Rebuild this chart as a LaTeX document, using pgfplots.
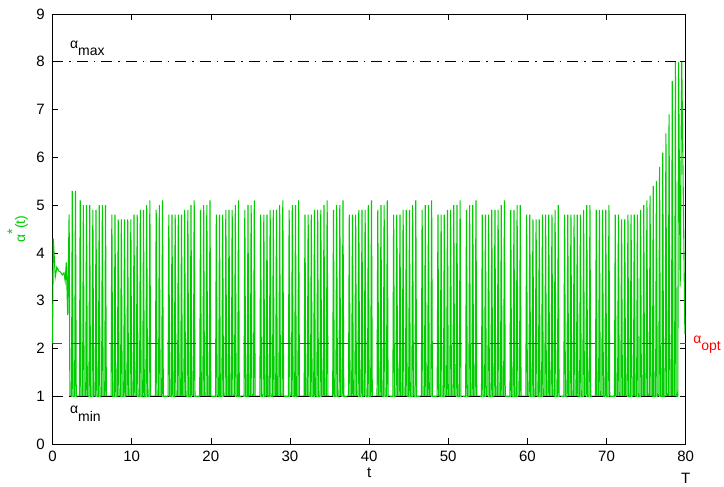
\documentclass[border=0pt]{standalone}
\usepackage{fontspec}
\setmainfont{Liberation Sans}
\usepackage{pgfplots}
\pgfplotsset{compat=1.18}
\definecolor{mgreen}{rgb}{0,0.8,0}
\definecolor{mred}{rgb}{1,0,0}
\begin{document}
\fontsize{14bp}{17bp}\selectfont
\begin{tikzpicture}
\begin{axis}[
  at={(0,0)}, anchor=south west,
  scale only axis, width=633.2bp, height=430bp,
  xmin=0, xmax=80, ymin=0, ymax=9,
  xtick={0,10,...,80}, ytick={0,1,...,9},
  tick align=inside, tick pos=both,
  major tick length=6bp,
  axis line style={line width=0.8bp},
  every tick/.style={line width=0.6bp, black},
  clip=false,
  /pgf/number format/assume math mode=true,
  ticklabel style={font=\fontsize{15bp}{18bp}\selectfont},
  xticklabel style={yshift=-2.5bp},
  yticklabel style={xshift=-3bp},
  every axis y label/.style={at={(axis description cs:-0.0434,0.5)}, anchor=base, rotate=90, text=mgreen, inner sep=0pt},
  every axis x label/.style={at={(axis description cs:0.5,-0.079)}, anchor=base, inner sep=0pt, font=\fontsize{15bp}{18bp}\selectfont},
  ylabel={α\raisebox{8bp}{*}(t)},
  xlabel={t},
]
\addplot[mgreen, line width=1.1bp] coordinates {
(0,2.1)(0.1,4.3)(0.35,3.5)(0.55,3.7)(0.8,3.62)(1.0,3.6)(1.25,3.54)(1.45,3.58)(1.6,3.42)(1.75,3.8)(1.92,2.7)(2.1,4.8)(2.2,1)(2.4,1)(2.5,5.3)(2.6,1)(2.8,1)(2.9,5.3)(3.0,1)
(3.4,1)(3.5,5.1)(3.6,1) (3.8,1)(3.9,5.0)(4.0,1) (4.2,1)(4.3,5.0)(4.4,1) (4.6,1)(4.7,5.0)(4.8,1) (5.0,1)(5.1,4.9)(5.2,1) (5.4,1)(5.5,4.9)(5.6,1) (5.8,1)(5.9,5.0)(6.0,1) (6.2,1)(6.3,5.0)(6.4,1) (6.6,1)(6.7,5.0)(6.8,1)
(7.4,1)(7.5,4.8)(7.6,1) (7.8,1)(7.9,4.8)(8.0,1) (8.2,1)(8.3,4.7)(8.4,1) (8.6,1)(8.7,4.7)(8.8,1) (9.0,1)(9.1,4.7)(9.2,1) (9.4,1)(9.5,4.7)(9.6,1) (9.8,1)(9.9,4.7)(10.0,1) (10.2,1)(10.3,4.8)(10.4,1) (10.6,1)(10.7,4.8)(10.8,1) (11.0,1)(11.1,4.9)(11.2,1) (11.4,1)(11.5,4.9)(11.6,1) (11.8,1)(11.9,5.0)(12.0,1) (12.2,1)(12.3,5.1)(12.4,1)
(13.0,1)(13.1,4.9)(13.2,1) (13.4,1)(13.5,5.0)(13.6,1) (13.8,1)(13.9,5.1)(14.0,1)
(14.6,1)(14.7,4.8)(14.8,1) (15.0,1)(15.1,4.8)(15.2,1) (15.4,1)(15.5,4.8)(15.6,1) (15.8,1)(15.9,4.8)(16.0,1) (16.2,1)(16.3,4.8)(16.4,1) (16.6,1)(16.7,4.9)(16.8,1) (17.0,1)(17.1,4.9)(17.2,1) (17.4,1)(17.5,5.0)(17.6,1) (17.8,1)(17.9,5.1)(18.0,1)
(18.6,1)(18.7,4.9)(18.8,1) (19.0,1)(19.1,5.0)(19.2,1) (19.4,1)(19.5,5.0)(19.6,1) (19.8,1)(19.9,5.1)(20.0,1)
(20.6,1)(20.7,4.8)(20.8,1) (21.0,1)(21.1,4.8)(21.2,1) (21.4,1)(21.5,4.8)(21.6,1) (21.8,1)(21.9,4.9)(22.0,1) (22.2,1)(22.3,4.9)(22.4,1) (22.6,1)(22.7,4.9)(22.8,1) (23.0,1)(23.1,5.0)(23.2,1) (23.4,1)(23.5,5.1)(23.6,1) (24.2,1)(24.3,4.9)(24.4,1) (24.6,1)(24.7,5.0)(24.8,1) (25.0,1)(25.1,5.0)(25.2,1) (25.4,1)(25.5,5.1)(25.6,1)
(26.2,1)(26.3,4.8)(26.4,1) (26.6,1)(26.7,4.8)(26.8,1) (27.0,1)(27.1,4.8)(27.2,1) (27.4,1)(27.5,4.9)(27.6,1) (27.8,1)(27.9,4.9)(28.0,1) (28.2,1)(28.3,4.9)(28.4,1) (28.6,1)(28.7,5.0)(28.8,1) (29.0,1)(29.1,5.1)(29.2,1) (29.8,1)(29.9,4.9)(30.0,1) (30.2,1)(30.3,5.0)(30.4,1) (30.6,1)(30.7,5.0)(30.8,1) (31.0,1)(31.1,5.1)(31.2,1)
(31.8,1)(31.9,4.8)(32.0,1) (32.2,1)(32.3,4.8)(32.4,1) (32.6,1)(32.7,4.8)(32.8,1) (33.0,1)(33.1,4.9)(33.2,1) (33.4,1)(33.5,4.9)(33.6,1) (33.8,1)(33.9,4.9)(34.0,1) (34.2,1)(34.3,5.0)(34.4,1) (34.6,1)(34.7,5.1)(34.8,1) (35.4,1)(35.5,4.9)(35.6,1) (35.8,1)(35.9,5.0)(36.0,1) (36.2,1)(36.3,5.0)(36.4,1) (36.6,1)(36.7,5.1)(36.8,1)
(37.4,1)(37.5,4.8)(37.6,1) (37.8,1)(37.9,4.8)(38.0,1) (38.2,1)(38.3,4.8)(38.4,1) (38.6,1)(38.7,4.9)(38.8,1) (39.0,1)(39.1,4.9)(39.2,1) (39.4,1)(39.5,4.9)(39.6,1) (39.8,1)(39.9,5.0)(40.0,1) (40.2,1)(40.3,5.1)(40.4,1) (41.0,1)(41.1,4.9)(41.2,1) (41.4,1)(41.5,5.0)(41.6,1) (41.8,1)(41.9,5.0)(42.0,1) (42.2,1)(42.3,5.1)(42.4,1)
(43.0,1)(43.1,4.8)(43.2,1) (43.4,1)(43.5,4.8)(43.6,1) (43.8,1)(43.9,4.8)(44.0,1) (44.2,1)(44.3,4.9)(44.4,1) (44.6,1)(44.7,4.9)(44.8,1) (45.0,1)(45.1,4.9)(45.2,1) (45.4,1)(45.5,5.0)(45.6,1) (45.8,1)(45.9,5.1)(46.0,1) (46.6,1)(46.7,4.9)(46.8,1) (47.0,1)(47.1,5.0)(47.2,1) (47.4,1)(47.5,5.0)(47.6,1) (47.8,1)(47.9,5.1)(48.0,1)
(48.6,1)(48.7,4.8)(48.8,1) (49.0,1)(49.1,4.8)(49.2,1) (49.4,1)(49.5,4.8)(49.6,1) (49.8,1)(49.9,4.9)(50.0,1) (50.2,1)(50.3,4.9)(50.4,1) (50.6,1)(50.7,5.0)(50.8,1) (51.0,1)(51.1,5.0)(51.2,1) (51.4,1)(51.5,5.1)(51.6,1) (52.2,1)(52.3,4.9)(52.4,1) (52.6,1)(52.7,5.0)(52.8,1) (53.0,1)(53.1,5.0)(53.2,1) (53.4,1)(53.5,5.1)(53.6,1)
(54.2,1)(54.3,4.8)(54.4,1) (54.6,1)(54.7,4.8)(54.8,1) (55.0,1)(55.1,4.8)(55.2,1) (55.4,1)(55.5,4.9)(55.6,1) (55.8,1)(55.9,4.9)(56.0,1) (56.2,1)(56.3,4.9)(56.4,1) (56.6,1)(56.7,5.0)(56.8,1) (57.0,1)(57.1,5.1)(57.2,1) (57.8,1)(57.9,4.9)(58.0,1) (58.2,1)(58.3,4.9)(58.4,1) (58.6,1)(58.7,5.0)(58.8,1) (59.0,1)(59.1,5.0)(59.2,1)
(59.8,1)(59.9,4.8)(60.0,1) (60.2,1)(60.3,4.8)(60.4,1) (60.6,1)(60.7,4.7)(60.8,1) (61.0,1)(61.1,4.7)(61.2,1) (61.4,1)(61.5,4.7)(61.6,1) (61.8,1)(61.9,4.8)(62.0,1) (62.2,1)(62.3,4.8)(62.4,1) (62.6,1)(62.7,4.8)(62.8,1) (63.0,1)(63.1,4.8)(63.2,1) (63.4,1)(63.5,4.9)(63.6,1) (63.8,1)(63.9,5.0)(64.0,1)
(64.6,1)(64.7,4.8)(64.8,1) (65.0,1)(65.1,4.8)(65.2,1) (65.4,1)(65.5,4.8)(65.6,1) (65.8,1)(65.9,4.8)(66.0,1) (66.2,1)(66.3,4.8)(66.4,1) (66.6,1)(66.7,4.8)(66.8,1) (67.0,1)(67.1,4.9)(67.2,1) (67.4,1)(67.5,5.0)(67.6,1) (67.8,1)(67.9,5.0)(68.0,1)
(68.6,1)(68.7,4.9)(68.8,1) (69.0,1)(69.1,4.9)(69.2,1) (69.4,1)(69.5,4.9)(69.6,1) (69.8,1)(69.9,4.9)(70.0,1) (70.2,1)(70.3,5.0)(70.4,1)
(71.0,1)(71.1,4.8)(71.2,1) (71.4,1)(71.5,4.8)(71.6,1) (71.8,1)(71.9,4.7)(72.0,1) (72.2,1)(72.3,4.7)(72.4,1) (72.6,1)(72.7,4.8)(72.8,1) (73.0,1)(73.1,4.8)(73.2,1) (73.4,1)(73.5,4.8)(73.6,1) (73.8,1)(73.9,4.8)(74.0,1) (74.2,1)(74.3,4.9)(74.4,1) (74.6,1)(74.7,5.0)(74.8,1) (75.0,1)(75.1,5.1)(75.2,1) (75.4,1)(75.5,5.2)(75.6,1) (75.8,1)(75.9,5.4)(76.0,1) (76.2,1)(76.3,5.5)(76.4,1) (76.6,1)(76.7,5.8)(76.8,1) (77.0,1)(77.1,6.1)(77.2,1) (77.4,1)(77.5,6.5)(77.6,1) (77.8,1)(77.9,6.9)(78.0,1) (78.2,1)(78.3,7.6)(78.4,1) (78.6,1)(78.7,8.0)(78.8,1)
(79.0,1)(79.1,8.0)(79.3,3.3)(79.5,8.0)(79.9,2.3)
};
\addplot[black, line width=0.8bp, dash pattern=on 11bp off 6bp on 1.5bp off 6bp] coordinates {(0,8)(80,8)};
\addplot[black, line width=0.8bp, dash pattern=on 11bp off 6bp on 1.5bp off 6bp] coordinates {(0,1)(80,1)};
\addplot[color=mred, line width=1.2bp, dash pattern=on 10bp off 9bp, mark=none] table {
x y
0 2.1
80 2.1
};
\node[anchor=base west, inner sep=0pt] at (axis cs:2.2,8.28) {α\raisebox{-7.5bp}{max}};
\node[anchor=base west, inner sep=0pt] at (axis cs:2.2,0.63) {α\raisebox{-7.5bp}{min}};
\node[anchor=base west, inner sep=0pt, text=mred] at (axis cs:80.93,2.11) {α\raisebox{-7.5bp}{opt}};
\node[anchor=base, inner sep=0pt, font=\fontsize{15bp}{18bp}\selectfont] at (axis description cs:1,-0.093) {T};
\end{axis}
\pgfresetboundingbox
\path (-52.5bp,-43bp) rectangle (671.5bp,444bp);
\end{tikzpicture}
\end{document}
